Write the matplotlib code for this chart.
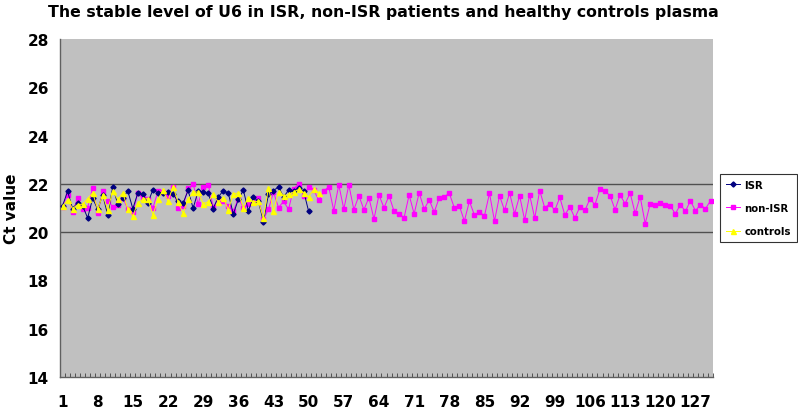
import matplotlib
matplotlib.use("Agg")
import matplotlib.pyplot as plt
import numpy as np

# Ct values
isr = [21.09, 21.69, 20.98, 21.21, 21.09, 20.59, 21.40, 20.95, 21.55, 20.71,
       21.88, 21.16, 21.43, 21.70, 20.97, 21.63, 21.56, 21.22, 21.76, 21.62,
       21.63, 21.67, 21.58, 21.27, 21.20, 21.73, 20.99, 21.70, 21.66, 21.62,
       20.98, 21.45, 21.72, 21.62, 20.74, 21.36, 21.74, 20.88, 21.45, 21.27,
       20.43, 21.58, 21.72, 21.88, 21.45, 21.74, 21.70, 21.84, 21.70, 20.86]

non_isr = [21.06, 21.54, 20.84, 21.40, 20.95, 21.02, 21.84, 20.79, 21.70, 21.28,
           21.06, 21.12, 21.43, 20.95, 20.82, 21.62, 21.40, 21.39, 21.01, 21.69,
           21.67, 21.51, 21.88, 20.99, 21.09, 21.81, 22.00, 21.17, 21.86, 21.97,
           21.05, 21.36, 21.27, 21.09, 20.87, 21.39, 21.02, 21.18, 21.25, 21.41,
           20.54, 20.95, 21.66, 21.02, 21.27, 20.95, 21.80, 21.99, 21.50, 21.87,
           21.76, 21.32, 21.70, 21.88, 20.89, 21.96, 20.95, 21.96, 20.93, 21.51,
           20.93, 21.43, 20.54, 21.54, 21.01, 21.51, 20.87, 20.76, 20.60, 21.54,
           20.76, 21.63, 20.95, 21.34, 20.83, 21.43, 21.47, 21.61, 21.01, 21.09,
           20.46, 21.28, 20.71, 20.83, 20.68, 21.61, 20.46, 21.51, 20.90, 21.63,
           20.76, 21.51, 20.50, 21.54, 20.58, 21.72, 21.01, 21.18, 20.90, 21.44,
           20.71, 21.05, 20.58, 21.05, 20.90, 21.38, 21.14, 21.79, 21.70, 21.51,
           20.93, 21.54, 21.18, 21.62, 20.78, 21.47, 20.35, 21.18, 21.11, 21.22,
           21.14, 21.09, 20.76, 21.14, 20.86, 21.30, 20.89, 21.14, 20.97, 21.30]

controls = [21.07, 21.33, 20.98, 21.14, 21.16, 21.39, 21.63, 20.95, 21.55, 20.93,
            21.70, 21.36, 21.63, 20.95, 20.67, 21.22, 21.36, 21.39, 20.71, 21.36,
            21.74, 21.29, 21.89, 21.25, 20.78, 21.36, 21.67, 21.66, 21.18, 21.25,
            21.56, 21.25, 21.43, 20.93, 21.58, 21.63, 21.02, 21.43, 21.25, 21.29,
            20.57, 21.84, 20.88, 21.66, 21.50, 21.56, 21.66, 21.77, 21.63, 21.47,
            21.77, 21.63]

n_cat = 130
tick_labels = list(range(1, n_cat + 1, 7))

fig = plt.figure(figsize=(7.98, 4.10), dpi=100)
ax = fig.add_axes([0.0752, 0.078, 0.8183, 0.8244])
ax.set_facecolor("#C0C0C0")

ax.plot(np.arange(1, len(isr) + 1), isr, color="#000080", lw=0.7,
        marker="D", ms=2.6, label="ISR", zorder=3)
ax.plot(np.arange(1, len(non_isr) + 1), non_isr, color="#FF00FF", lw=0.7,
        marker="s", ms=3.3, label="non-ISR", zorder=2)
ax.plot(np.arange(1, len(controls) + 1), controls, color="#FFFF00", lw=0.7,
        marker="^", ms=3.6, label="controls", zorder=4)

ax.set_xlim(0.5, n_cat + 0.5)
ax.set_ylim(14, 28)
ax.set_yticks(range(14, 29, 2))
ax.set_xticks(tick_labels)
ax.set_xticklabels([str(t) for t in tick_labels])
ax.set_xticks(np.arange(0.5, n_cat + 1, 1), minor=True)
ax.tick_params(axis="x", which="major", length=0, pad=12)
ax.tick_params(axis="x", which="minor", length=3, width=0.6, color="#404040",
               direction="in")
ax.tick_params(axis="y", length=0, pad=8)

for yl in (20, 22):
    ax.axhline(yl, color="#505050", lw=1.0, zorder=1)

for lab in ax.get_xticklabels() + ax.get_yticklabels():
    lab.set_fontweight("bold")
    lab.set_fontsize(11)

for s in ("top", "right"):
    ax.spines[s].set_visible(False)
for s in ("left", "bottom"):
    ax.spines[s].set_color("#606060")
    ax.spines[s].set_linewidth(1.0)

ax.set_ylabel("Ct value", fontsize=11, fontweight="bold", labelpad=6)
fig.suptitle("The stable level of U6 in ISR, non-ISR patients and healthy controls plasma",
             x=0.48, y=0.988, fontsize=11.3, fontweight="bold")

leg = ax.legend(loc="center left", bbox_to_anchor=(1.0107, 0.5), frameon=True,
                fancybox=False, edgecolor="black", prop={"weight": "bold", "size": 7.3},
                handlelength=1.4, handletextpad=0.4, borderpad=0.6,
                labelspacing=1.3, borderaxespad=0)
leg.get_frame().set_linewidth(0.8)

fig.savefig("out.png", dpi=100, facecolor="white")
